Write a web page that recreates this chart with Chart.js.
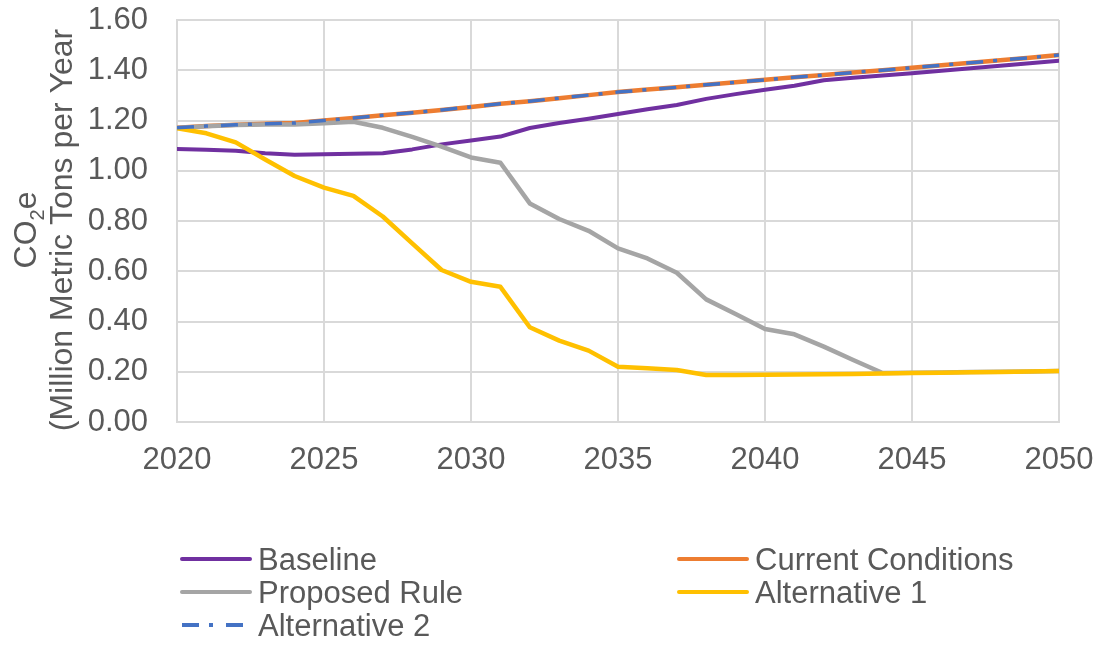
<!DOCTYPE html>
<html>
<head>
<meta charset="utf-8">
<script src="https://cdn.jsdelivr.net/npm/chart.js@4/dist/chart.umd.min.js"></script>
<style>
  html, body { margin: 0; padding: 0; background: #ffffff; }
  #wrap { width: 1100px; height: 646px; }
</style>
</head>
<body>
<div id="wrap"><canvas id="c" width="1100" height="646"></canvas></div>
<script>
// Annual CO2e emissions by scenario, 2020-2050 (million metric tons per year)
const years = [2020, 2021, 2022, 2023, 2024, 2025, 2026, 2027, 2028, 2029,
               2030, 2031, 2032, 2033, 2034, 2035, 2036, 2037, 2038, 2039,
               2040, 2041, 2042, 2043, 2044, 2045, 2046, 2047, 2048, 2049, 2050];

const baseline = [1.087, 1.084, 1.080, 1.070, 1.064, 1.066, 1.068, 1.070, 1.085, 1.105,
                  1.120, 1.136, 1.170, 1.190, 1.207, 1.226, 1.245, 1.262, 1.286, 1.305,
                  1.322, 1.338, 1.360, 1.370, 1.379, 1.388, 1.398, 1.408, 1.418, 1.428, 1.438];

const currentConditions = [1.171, 1.178, 1.183, 1.187, 1.190, 1.200, 1.210, 1.221, 1.231, 1.242,
                           1.254, 1.267, 1.277, 1.289, 1.301, 1.313, 1.323, 1.332, 1.342, 1.352,
                           1.362, 1.372, 1.381, 1.391, 1.400, 1.410, 1.420, 1.430, 1.440, 1.450, 1.461];

const proposedRule = [1.170, 1.177, 1.182, 1.184, 1.184, 1.189, 1.195, 1.171, 1.135, 1.096,
                      1.053, 1.032, 0.870, 0.808, 0.761, 0.691, 0.651, 0.594, 0.488, 0.430,
                      0.370, 0.349, 0.300, 0.247, 0.195, 0.196, 0.197, 0.199, 0.200, 0.201, 0.203];

const alternative1 = [1.169, 1.149, 1.113, 1.045, 0.979, 0.933, 0.900, 0.818, 0.711, 0.605,
                      0.558, 0.538, 0.377, 0.324, 0.284, 0.220, 0.214, 0.207, 0.187, 0.187,
                      0.188, 0.189, 0.190, 0.191, 0.193, 0.195, 0.196, 0.198, 0.199, 0.201, 0.203];

const alternative2 = [1.171, 1.178, 1.183, 1.187, 1.190, 1.200, 1.210, 1.221, 1.231, 1.242,
                      1.254, 1.267, 1.277, 1.289, 1.301, 1.313, 1.323, 1.332, 1.342, 1.352,
                      1.362, 1.372, 1.381, 1.391, 1.400, 1.410, 1.420, 1.430, 1.440, 1.450, 1.461];

const seriesNames = ['Baseline', 'Current Conditions', 'Proposed Rule', 'Alternative 1', 'Alternative 2'];
const xTicks = [2020, 2025, 2030, 2035, 2040, 2045, 2050];
const yTicks = [0, 0.2, 0.4, 0.6, 0.8, 1.0, 1.2, 1.4, 1.6];

const FONT = '"Liberation Sans", Arial, sans-serif';
const INK = '#595959';
const GRID = '#d9d9d9';

function pts(values) {
  return years.map((yr, i) => ({ x: yr, y: values[i] }));
}

function lineSet(label, values, color, order, extra) {
  return Object.assign({
    label: label,
    data: pts(values),
    borderColor: color,
    backgroundColor: color,
    borderWidth: 4.5,
    pointRadius: 0,
    pointHoverRadius: 0,
    tension: 0,
    fill: false,
    borderCapStyle: 'round',
    borderJoinStyle: 'round',
    order: order
  }, extra || {});
}

const DASH = [17, 10, 4, 13];

const datasets = [
  lineSet(seriesNames[0], baseline, '#7030A0', 5, { borderWidth: 4 }),
  lineSet(seriesNames[1], currentConditions, '#ED7D31', 4),
  lineSet(seriesNames[2], proposedRule, '#A5A5A5', 3),
  lineSet(seriesNames[3], alternative1, '#FFC000', 2),
  lineSet(seriesNames[4], alternative2, '#4472C4', 1, { borderDash: DASH, borderCapStyle: 'butt', borderWidth: 3.5 })
];

// Rotated two-line axis title with a subscript in CO2e
const axisTitle = {
  id: 'axisTitle',
  afterDraw(chart) {
    const ctx = chart.ctx;
    const cy = 230;
    ctx.save();
    ctx.fillStyle = INK;
    ctx.textBaseline = 'alphabetic';
    ctx.textAlign = 'left';

    // line 1: CO2e
    const big = '32px ' + FONT;
    const small = '20px ' + FONT;
    ctx.font = big;
    const wCO = ctx.measureText('CO').width;
    const wE = ctx.measureText('e').width;
    ctx.font = small;
    const w2 = ctx.measureText('2').width;
    const total = wCO + w2 + wE;
    ctx.save();
    ctx.translate(36, cy);
    ctx.rotate(-Math.PI / 2);
    let x = -total / 2;
    ctx.font = big;
    ctx.fillText('CO', x, 0);
    x += wCO;
    ctx.font = small;
    ctx.fillText('2', x, 8);
    x += w2;
    ctx.font = big;
    ctx.fillText('e', x, 0);
    ctx.restore();

    // line 2
    ctx.save();
    ctx.translate(72, cy);
    ctx.rotate(-Math.PI / 2);
    ctx.font = big;
    ctx.textAlign = 'center';
    ctx.fillText('(Million Metric Tons per Year', 0, 0);
    ctx.restore();
    ctx.restore();
  }
};

// Two-column legend under the plot
const gridLegend = {
  id: 'gridLegend',
  afterDraw(chart) {
    const ctx = chart.ctx;
    const colX = [180, 677];
    const rowY = [559, 592, 625];
    const lineLen = 70;
    ctx.save();
    chart.data.datasets.forEach((ds, i) => {
      const lx = colX[i % 2];
      const ly = rowY[Math.floor(i / 2)];
      ctx.beginPath();
      ctx.strokeStyle = ds.borderColor;
      ctx.lineWidth = 4;
      if (ds.borderDash) {
        ctx.setLineDash(ds.borderDash);
        ctx.lineCap = 'butt';
      } else {
        ctx.setLineDash([]);
        ctx.lineCap = 'round';
      }
      ctx.moveTo(lx + 2, ly);
      ctx.lineTo(lx + lineLen, ly);
      ctx.stroke();
      ctx.setLineDash([]);
      ctx.fillStyle = INK;
      ctx.font = '31px ' + FONT;
      ctx.textAlign = 'left';
      ctx.textBaseline = 'alphabetic';
      ctx.fillText(ds.label, lx + 78, ly + 11);
    });
    ctx.restore();
  }
};

new Chart(document.getElementById('c'), {
  type: 'line',
  data: { datasets: datasets },
  options: {
    responsive: false,
    animation: false,
    devicePixelRatio: 1,
    layout: { padding: { top: 20, right: 41, left: 0, bottom: 0 } },
    plugins: {
      legend: { display: false },
      tooltip: { enabled: false },
      title: { display: false }
    },
    scales: {
      x: {
        type: 'linear',
        min: xTicks[0],
        max: xTicks[xTicks.length - 1],
        afterBuildTicks(scale) { scale.ticks = xTicks.map(v => ({ value: v })); },
        afterFit(scale) {
          scale.height = 224;
          scale.paddingLeft = 0;
          scale.paddingRight = 0;
        },
        ticks: {
          callback: v => String(v),
          color: INK,
          font: { family: FONT, size: 31 },
          padding: 20,
          maxRotation: 0,
          autoSkip: false
        },
        grid: { color: GRID, lineWidth: 2, drawTicks: false },
        border: { color: GRID, width: 2 }
      },
      y: {
        min: yTicks[0],
        max: yTicks[yTicks.length - 1],
        afterBuildTicks(scale) { scale.ticks = yTicks.map(v => ({ value: v })); },
        afterFit(scale) {
          scale.width = 177;
          scale.paddingTop = 0;
          scale.paddingBottom = 0;
        },
        ticks: {
          callback: v => Number(v).toFixed(2),
          color: INK,
          font: { family: FONT, size: 31 },
          padding: 29,
          autoSkip: false
        },
        grid: { color: GRID, lineWidth: 2, drawTicks: false },
        border: { color: GRID, width: 2 }
      }
    }
  },
  plugins: [axisTitle, gridLegend]
});
</script>
</body>
</html>
